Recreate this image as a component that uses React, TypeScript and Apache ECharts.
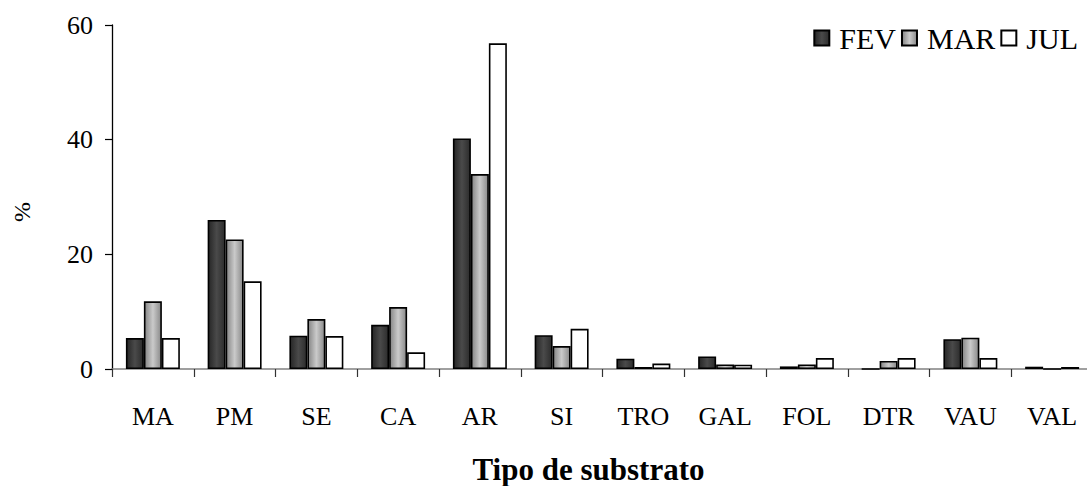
import React, { useEffect, useRef } from "react";
import * as echarts from "echarts";

const categories = ["MA", "PM", "SE", "CA", "AR", "SI", "TRO", "GAL", "FOL", "DTR", "VAU", "VAL"];
const fev = [5.4, 26.0, 5.8, 7.7, 40.2, 5.9, 1.8, 2.2, 0.45, 0, 5.2, 0.4];
const mar = [11.8, 22.6, 8.7, 10.8, 34.0, 4.0, 0.35, 0.8, 0.8, 1.4, 5.45, 0];
const jul = [5.4, 15.3, 5.75, 2.9, 56.8, 7.0, 0.95, 0.75, 1.9, 1.9, 1.9, 0.35];
const yTicks = [0, 20, 40, 60];

const FONT = "'Liberation Serif', 'Times New Roman', serif";

export default function App() {
  const ref = useRef<HTMLDivElement>(null);
  useEffect(() => {
    if (!ref.current) return;
    const chart = echarts.init(ref.current, undefined, { renderer: "svg" });
    const grad = (stops: [number, string][]) =>
      new echarts.graphic.LinearGradient(0, 0, 1, 0, stops.map(([offset, color]) => ({ offset, color })));
    const fevFill = grad([[0, "#262626"], [0.5, "#4a4a4a"], [1, "#2c2c2c"]]);
    const marFill = grad([[0, "#858585"], [0.5, "#cacaca"], [1, "#8a8a8a"]]);
    const border = { borderColor: "#000", borderWidth: 1.6 };
    chart.setOption({
      animation: false,
      backgroundColor: "#fff",
      textStyle: { fontFamily: FONT },
      grid: {
        left: 112,
        right: -6,
        top: 25,
        bottom: 117,
        containLabel: false,
        outerBoundsMode: "none",
      },
      legend: {
        right: 4,
        top: 18,
        icon: "rect",
        itemWidth: 15,
        itemHeight: 15,
        itemGap: 5,
        textStyle: { fontFamily: FONT, fontSize: 30, color: "#000", padding: [0, 0, 0, 5] },
        data: ["FEV", "MAR", "JUL"],
      },
      xAxis: {
        type: "category",
        data: categories,
        name: "Tipo de substrato",
        nameLocation: "middle",
        nameGap: 85,
        nameTextStyle: {
          fontFamily: FONT,
          fontSize: 31,
          fontWeight: "bold",
          color: "#000",
          padding: [0, 28, 0, 0],
        },
        axisLine: { lineStyle: { color: "#808080", width: 1.5 } },
        axisTick: { show: true, length: 8, lineStyle: { color: "#333", width: 1.2 } },
        axisLabel: { margin: 34, fontFamily: FONT, fontSize: 26, color: "#000", interval: 0 },
      },
      yAxis: {
        type: "value",
        min: 0,
        max: 60,
        interval: 20,
        name: "%",
        nameLocation: "middle",
        nameRotate: 90,
        nameGap: 78,
        nameTextStyle: { fontFamily: FONT, fontSize: 24, color: "#000", padding: [0, 30, 0, 0] },
        axisLine: { show: true, lineStyle: { color: "#000", width: 1.3 } },
        axisTick: { show: true, length: 7, lineStyle: { color: "#000", width: 1.2 } },
        axisLabel: {
          margin: 19,
          fontFamily: FONT,
          fontSize: 26,
          color: "#000",
          formatter: (v: number) => (yTicks.includes(v) ? String(v) : ""),
        },
        splitLine: { show: false },
      },
      series: [
        {
          name: "FEV",
          type: "bar",
          data: fev,
          barGap: "0%",
          barCategoryGap: "34%",
          itemStyle: { color: fevFill, ...border },
        },
        {
          name: "MAR",
          type: "bar",
          data: mar,
          barGap: "0%",
          barCategoryGap: "34%",
          itemStyle: { color: marFill, ...border },
        },
        {
          name: "JUL",
          type: "bar",
          data: jul,
          barGap: "0%",
          barCategoryGap: "34%",
          itemStyle: { color: "#fff", ...border },
        },
      ],
    });
    return () => chart.dispose();
  }, []);
  return <div ref={ref} style={{ width: 1087, height: 486, position: "absolute", left: 0, top: 0 }} />;
}
